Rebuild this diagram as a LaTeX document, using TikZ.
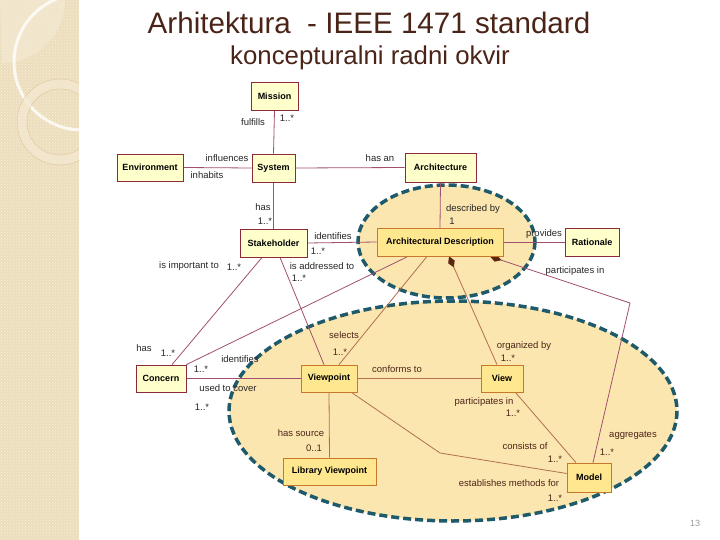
\documentclass[tikz,border=0pt]{standalone}
\usepackage{fontspec}
\setmainfont{Liberation Sans}
\usetikzlibrary{arrows.meta,calc,patterns}
\definecolor{band}{RGB}{236,221,187}
\definecolor{bandlight}{RGB}{243,232,208}
\definecolor{titlec}{RGB}{75,36,24}
\definecolor{ellfill}{RGB}{252,230,175}
\definecolor{elldash}{RGB}{30,90,106}
\definecolor{outfill}{RGB}{255,255,204}
\definecolor{outdraw}{RGB}{139,42,58}
\definecolor{infill}{RGB}{255,231,143}
\definecolor{indraw}{RGB}{200,120,42}
\definecolor{outline}{RGB}{160,80,110}
\definecolor{inline}{RGB}{176,112,74}
\definecolor{diam}{RGB}{90,40,16}
\pgfdeclarelayer{ellayer}
\pgfdeclarelayer{linelayer}
\pgfsetlayers{ellayer,linelayer,main}
\tikzset{
  obox/.style={draw=outdraw,fill=outfill,line width=0.8pt,inner sep=0pt,font=\fontsize{9}{10}\selectfont\bfseries},
  ibox/.style={draw=indraw,fill=infill,line width=0.8pt,inner sep=0pt,font=\fontsize{9}{10}\selectfont\bfseries},
  lbl/.style={inner sep=0pt,font=\fontsize{9.5}{10}\selectfont,text=black!85},
  ilbl/.style={inner sep=0pt,font=\fontsize{9.5}{10}\selectfont,text=titlec},
  oconn/.style={draw=outline,line width=0.8pt},
  iconn/.style={draw=inline,line width=0.8pt},
  dashell/.style={fill=ellfill,draw=elldash,line width=3.5pt,dash pattern=on 8pt off 4pt},
  dtip/.style={{Diamond[length=12pt,width=7pt,fill=diam,color=diam]}-}
}
\begin{document}
\begin{tikzpicture}[x=1pt,y=-1pt]
\useasboundingbox (0,0) rectangle (720,540);
% left band
\fill[band] (0,0) rectangle (79,540);
\fill[pattern=crosshatch dots,pattern color=white!60!band] (0,0) rectangle (79,540);
\begin{scope}
\clip (0,0) rectangle (79,540);
\fill[bandlight,opacity=0.8] (0,0) -- (65,0) arc[start angle=0,end angle=90,radius=63] -- cycle;
\draw[white,opacity=0.8,line width=3pt] (82,62) circle[radius=68];
\draw[bandlight,opacity=0.8,line width=9pt] (60,122) circle[radius=38];
\draw[band!75!brown,line width=0.4pt] (60,122) circle[radius=43];
\draw[band!75!brown,line width=0.4pt] (60,122) circle[radius=33];
\end{scope}
% title
\node[text=titlec,font=\fontsize{29.6}{31}\selectfont] (title) at (369,23) {Arhitektura\ \ - IEEE 1471 standard};
\node[text=titlec,font=\fontsize{25.8}{27}\selectfont] (subtitle) at (370,58) {koncepturalni radni okvir};
\node[text=black!40,font=\fontsize{9}{10}\selectfont] (pnum) at (695,523) {13};
% ellipses
\begin{pgfonlayer}{ellayer}
\path[dashell] (453,411) ellipse[x radius=224,y radius=110];
\path[dashell] (446.5,241.5) ellipse[x radius=88.5,y radius=56.5];
\end{pgfonlayer}
% boxes
\node[obox,minimum width=47pt,minimum height=28pt] (mission) at (274.5,96) {Mission};
\node[obox,minimum width=66pt,minimum height=27pt] (env) at (150,167.5) {Environment};
\node[obox,minimum width=43pt,minimum height=28pt] (system) at (273.5,168) {System};
\node[obox,minimum width=71pt,minimum height=29pt] (arch) at (440.5,167.5) {Architecture};
\node[obox,minimum width=67pt,minimum height=28pt] (stake) at (273.5,243) {Stakeholder};
\node[ibox,minimum width=126pt,minimum height=28pt] (ad) at (440,242) {Architectural Description};
\node[obox,minimum width=54pt,minimum height=28pt] (rat) at (592,242) {Rationale};
\node[obox,minimum width=50pt,minimum height=27pt] (concern) at (161,378.5) {Concern};
\node[ibox,minimum width=56pt,minimum height=27pt] (vp) at (329,378.5) {Viewpoint};
\node[ibox,minimum width=42pt,minimum height=27pt] (view) at (502,378.5) {View};
\node[ibox,minimum width=44pt,minimum height=29pt] (model) at (589,477.5) {Model};
\node[ibox,minimum width=93pt,minimum height=27pt] (libvp) at (329.5,471.5) {Library Viewpoint};
% bend points
\coordinate (b1) at (630,303);
\coordinate (b2) at (440,453);
% connectors
\begin{pgfonlayer}{linelayer}
\path[oconn] (mission.south) -- (system.north);
\path[oconn] (env.east) -- (system.west);
\path[oconn] (system.east) -- (arch.west);
\path[oconn] (system.south) -- (stake.north);
\path[oconn] (stake.east) -- (ad.west);
\path[oconn] (arch.south) -- (ad.north);
\path[oconn] (ad.east) -- (rat.west);
\path[oconn] ($(stake.south)+(-11.5,0)$) -- ($(concern.north)+(11,0)$);
\path[oconn] ($(stake.south)+(6.5,0)$) -- ($(vp.north)+(-5,0)$);
\path[oconn] ($(ad.south)+(-32,0)$) -- (concern.north east);
\path[oconn] (concern.east) -- (vp.west);
\path[iconn] ($(ad.south)+(-13,0)$) -- ($(vp.north)+(10,0)$);
\path[iconn,dtip] ($(ad.south)+(9,0)$) -- ($(view.north)+(-5,0)$);
\path[oconn,dtip] ($(ad.south)+(50,0)$) -- (b1) -- ($(model.north)+(4,0)$);
\path[iconn] (vp.east) -- (view.west);
\path[iconn] (vp.south) -- (libvp.north);
\path[iconn] ($(vp.south east)+(-6,0)$) -- (b2) -- ($(model.west)+(0,-4)$);
\path[iconn] ($(view.south east)+(-8,0)$) -- ($(model.north)+(-13,0)$);
\end{pgfonlayer}
% labels
\node[lbl] (l1) at (253,122) {fulfills};
\node[lbl] (l2) at (287,118) {1..*};
\node[lbl] (l3) at (227,158) {influences};
\node[lbl] (l4) at (207,175.5) {inhabits};
\node[lbl] (l5) at (380,158.5) {has an};
\node[lbl] (l6) at (263,207) {has};
\node[lbl] (l7) at (265,221.5) {1..*};
\node[lbl] (l8) at (333,236.5) {identifies};
\node[lbl] (l9) at (318,251.5) {1..*};
\node[lbl] (l10) at (189,266) {is important to};
\node[lbl] (l11) at (234,267) {1..*};
\node[lbl] (l12) at (322,266.5) {is addressed to};
\node[lbl] (l13) at (299,278) {1..*};
\node[lbl] (l14) at (473,209) {described by};
\node[lbl] (l15) at (452,221) {1};
\node[lbl] (l16) at (544,234) {provides};
\node[lbl] (l17) at (575,271) {participates in};
\node[lbl] (l18) at (144,348) {has};
\node[lbl] (l19) at (168,353) {1..*};
\node[lbl] (l20) at (240,359) {identifies};
\node[lbl] (l21) at (201,369) {1..*};
\node[lbl] (l22) at (228,388) {used to cover};
\node[lbl] (l23) at (202,407) {1..*};
\node[ilbl] (l24) at (344,335) {selects};
\node[ilbl] (l25) at (340,352) {1..*};
\node[ilbl] (l26) at (524,346) {organized by};
\node[ilbl] (l27) at (508,358) {1..*};
\node[ilbl] (l28) at (397,369) {conforms to};
\node[ilbl] (l29) at (484,402) {participates in};
\node[ilbl] (l30) at (513,413) {1..*};
\node[ilbl] (l31) at (525,446) {consists of};
\node[ilbl] (l32) at (555,459) {1..*};
\node[ilbl] (l33) at (633,435) {aggregates};
\node[ilbl] (l34) at (607,452) {1..*};
\node[ilbl] (l35) at (509,483) {establishes methods for};
\node[ilbl] (l36) at (555,498) {1..*};
\node[ilbl] (l37) at (301,433) {has source};
\node[ilbl] (l38) at (314,448) {0..1};
\end{tikzpicture}
\end{document}
